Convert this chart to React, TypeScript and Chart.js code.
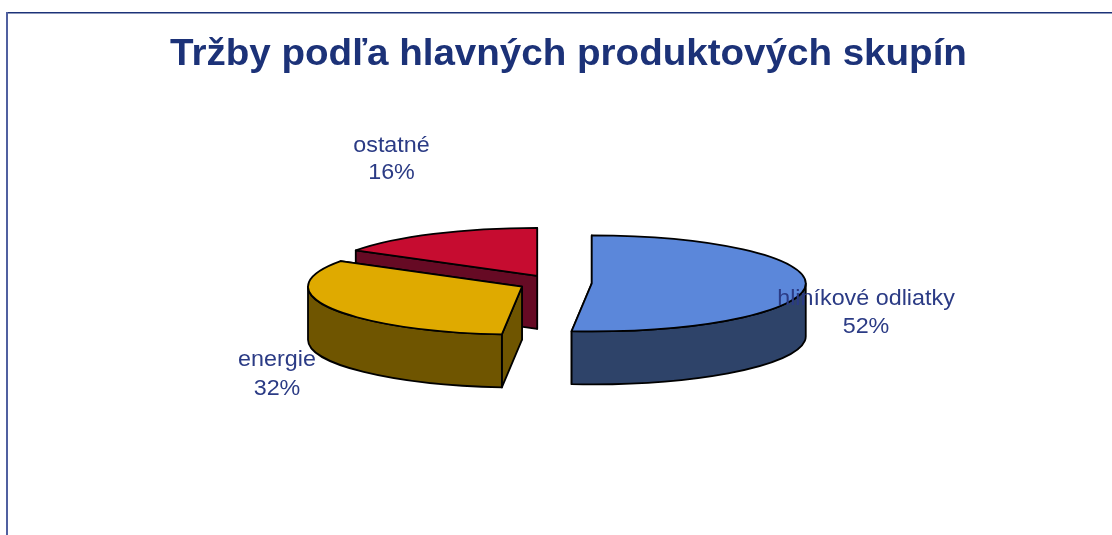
import React, { useEffect, useRef } from "react";
import { Chart, registerables } from "chart.js";

Chart.register(...registerables);

const chartTitle = "Tržby podľa hlavných produktových skupín";
const categories = ["hliníkové odliatky", "energie", "ostatné"];
const shares = [51.5, 32.4, 16.1];
const topColors = ["#5B87DA", "#DFAA00", "#C60C30"];
const sideColors = ["#2E4369", "#6F5500", "#660A24"];

const WIDTH = 1112;
const HEIGHT = 535;
const RADIUS = 214;
const TILT = 0.2243;
const DEPTH = 53;
const EXPLODE = 36.8;
const labelBaselines = [
  [866, 305, 333],
  [277, 366, 395],
  [391.5, 152, 179],
];

const stretchedText = (ctx: any, text: string, x: number, y: number, sx: number) => {
  ctx.save();
  ctx.translate(x, y);
  ctx.scale(sx, 1);
  ctx.fillText(text, 0, 0);
  ctx.restore();
};

const geometry = (arc: any) => {
  const mid = (arc.startAngle + arc.endAngle) / 2;
  const cx = arc.x + Math.cos(mid) * EXPLODE;
  const cy = arc.y + Math.sin(mid) * EXPLODE * TILT;
  const r = arc.outerRadius;
  const ry = r * TILT;
  const px = (a: number) => cx + r * Math.cos(a);
  const py = (a: number) => cy + ry * Math.sin(a);
  return { cx, cy, r, ry, px, py, start: arc.startAngle, end: arc.endAngle };
};

const pie3d = {
  id: "pie3d",
  beforeDraw(chart: any) {
    const { ctx } = chart;
    ctx.save();
    ctx.fillStyle = "#FFFFFF";
    ctx.fillRect(0, 0, WIDTH, HEIGHT);
    ctx.fillStyle = "#1C3278";
    ctx.fillRect(6, 12, WIDTH - 6, 1.5);
    ctx.fillStyle = "#5060A0";
    ctx.fillRect(6, 12, 2, HEIGHT - 12);
    ctx.restore();
  },
  beforeDatasetDraw(chart: any, args: any) {
    const { ctx } = chart;
    const arcs = args.meta.data;
    ctx.save();
    ctx.lineWidth = 1.8;
    ctx.strokeStyle = "#000000";
    ctx.lineJoin = "round";
    // Back slice first, so nearer walls paint over it.
    for (let i = arcs.length - 1; i >= 0; i--) {
      const g = geometry(arcs[i]);
      ctx.fillStyle = sideColors[i];
      const faces = [g.start, g.end].sort((p, q) => Math.sin(p) - Math.sin(q));
      for (const a of faces) {
        ctx.beginPath();
        ctx.moveTo(g.cx, g.cy);
        ctx.lineTo(g.px(a), g.py(a));
        ctx.lineTo(g.px(a), g.py(a) + DEPTH);
        ctx.lineTo(g.cx, g.cy + DEPTH);
        ctx.closePath();
        ctx.fill();
        ctx.stroke();
      }
      const a0 = Math.max(g.start, 0);
      const a1 = Math.min(g.end, Math.PI);
      if (a1 > a0) {
        ctx.beginPath();
        ctx.ellipse(g.cx, g.cy, g.r, g.ry, 0, a0, a1);
        ctx.ellipse(g.cx, g.cy + DEPTH, g.r, g.ry, 0, a1, a0, true);
        ctx.closePath();
        ctx.fill();
        ctx.stroke();
      }
    }
    for (let i = arcs.length - 1; i >= 0; i--) {
      const arc = arcs[i];
      const g = geometry(arc);
      ctx.save();
      ctx.translate(g.cx, g.cy);
      ctx.scale(1, TILT);
      ctx.translate(-arc.x, -arc.y);
      arc.draw(ctx);
      ctx.restore();
      ctx.beginPath();
      ctx.moveTo(g.cx, g.cy);
      ctx.ellipse(g.cx, g.cy, g.r, g.ry, 0, g.start, g.end);
      ctx.closePath();
      ctx.stroke();
    }
    ctx.restore();
    return false;
  },
  afterDraw(chart: any) {
    const { ctx } = chart;
    ctx.save();
    ctx.textAlign = "center";
    ctx.textBaseline = "alphabetic";
    ctx.fillStyle = "#1C3278";
    ctx.font = 'bold 36px "Liberation Sans", Arial, sans-serif';
    stretchedText(ctx, chartTitle, 568.5, 65, 1.071);
    ctx.fillStyle = "#2B3B85";
    ctx.font = '22px "Liberation Sans", Arial, sans-serif';
    categories.forEach((name, i) => {
      const [x, y1, y2] = labelBaselines[i];
      stretchedText(ctx, name, x, y1, 1.06);
      stretchedText(ctx, `${Math.round(shares[i])}%`, x, y2, 1.06);
    });
    ctx.restore();
  },
};

export default function App() {
  const ref = useRef<HTMLCanvasElement>(null);
  useEffect(() => {
    document.body.style.margin = "0";
    const chart = new Chart(ref.current!, {
      type: "pie",
      data: {
        labels: categories,
        datasets: [
          {
            data: shares,
            backgroundColor: topColors,
            borderWidth: 0,
          },
        ],
      },
      options: {
        responsive: false,
        animation: false,
        radius: RADIUS,
        layout: { padding: { left: 0, right: 2, top: 31, bottom: 0 } },
        plugins: { legend: { display: false }, title: { display: false }, tooltip: { enabled: false } },
      } as any,
      plugins: [pie3d],
    });
    return () => chart.destroy();
  }, []);
  return <canvas ref={ref} width={WIDTH} height={HEIGHT} style={{ display: "block" }} />;
}
